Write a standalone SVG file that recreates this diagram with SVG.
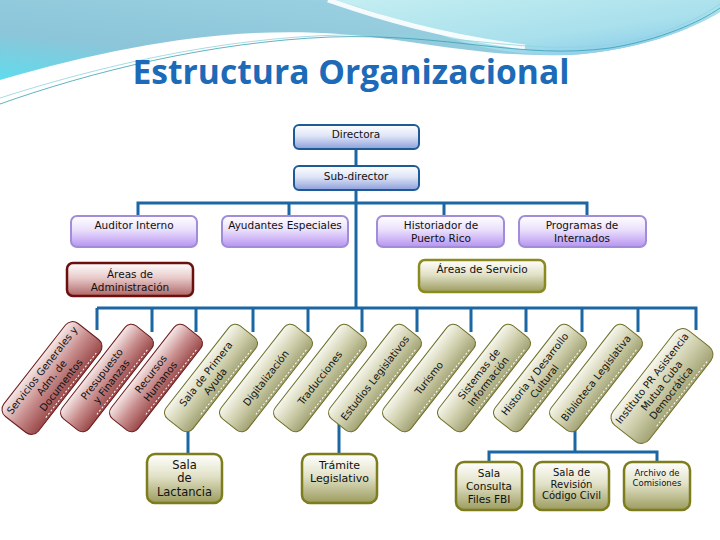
<svg xmlns="http://www.w3.org/2000/svg" width="720" height="540" viewBox="0 0 720 540">
<defs>
<linearGradient id="bgA" x1="0" y1="1" x2="1" y2="0">
<stop offset="0" stop-color="#5fdcec"/><stop offset="0.3" stop-color="#8cc5d9"/><stop offset="0.7" stop-color="#98cfe0"/><stop offset="1" stop-color="#b3e3ec"/>
</linearGradient>
<linearGradient id="bgB" x1="0" y1="0" x2="1" y2="1">
<stop offset="0" stop-color="#c4eef2"/><stop offset="0.6" stop-color="#a9e0ec"/><stop offset="1" stop-color="#7ec3ea"/>
</linearGradient>
<linearGradient id="gBlue" x1="0" y1="0" x2="0" y2="1"><stop offset="0" stop-color="#ffffff"/><stop offset="0.45" stop-color="#dfe5f7"/><stop offset="1" stop-color="#8c9fdb"/></linearGradient>
<linearGradient id="gPurple" x1="0" y1="0" x2="0" y2="1"><stop offset="0" stop-color="#ffffff"/><stop offset="0.45" stop-color="#eadffc"/><stop offset="1" stop-color="#b694f1"/></linearGradient>
<linearGradient id="gRedBox" x1="0" y1="0" x2="0" y2="1"><stop offset="0" stop-color="#ffffff"/><stop offset="0.45" stop-color="#e8caca"/><stop offset="1" stop-color="#ae6666"/></linearGradient>
<linearGradient id="gOliveBox" x1="0" y1="0" x2="0" y2="1"><stop offset="0" stop-color="#ffffff"/><stop offset="0.45" stop-color="#e2e2c8"/><stop offset="1" stop-color="#9b9b5e"/></linearGradient>
<linearGradient id="gRedR" x1="0" y1="0" x2="0" y2="1"><stop offset="0" stop-color="#f6e8e8"/><stop offset="0.5" stop-color="#c98e8e"/><stop offset="1" stop-color="#9a4848"/></linearGradient>
<linearGradient id="gOliveR" x1="0" y1="0" x2="0" y2="1"><stop offset="0" stop-color="#f7f7ee"/><stop offset="0.5" stop-color="#d0d0ae"/><stop offset="1" stop-color="#a2a274"/></linearGradient>
<style>
.conn{stroke:#1b66a3;stroke-width:3;fill:none}
.t{font-family:"DejaVu Sans",Verdana,sans-serif;fill:#111;text-anchor:middle}
.top{fill:url(#gBlue);stroke:#1d5a96;stroke-width:2}
.pur{fill:url(#gPurple);stroke:#a08cd8;stroke-width:2}
.adm{fill:url(#gRedBox);stroke:#6b0f0f;stroke-width:2.5}
.srv{fill:url(#gOliveBox);stroke:#8a8a1e;stroke-width:2.5}
.bot{fill:url(#gOliveBox);stroke:#7d7d1d;stroke-width:2.5}
.rred{fill:url(#gRedR);stroke:#6a1c1c;stroke-width:1}
.rol{fill:url(#gOliveR);stroke:#6e6e28;stroke-width:1}
.dash{stroke:#ffffff;stroke-width:1;stroke-dasharray:2 2;fill:none}
.rt{font-family:"DejaVu Sans",Verdana,sans-serif;font-size:10px;fill:#111;text-anchor:middle}
</style>
</defs>
<rect width="720" height="540" fill="#ffffff"/>
<g id="background">
<path d="M0,0 H720 V12 C690,30 640,50 570,55 C480,58 420,40 340,34 C230,26 120,45 0,80 Z" fill="url(#bgA)"/>
<path d="M335,0 H720 V12 C690,30 640,50 570,55 C520,56 480,48 450,38 C410,24 370,10 335,0 Z" fill="url(#bgB)"/>
<path d="M328,0 C380,18 440,36 525,47" stroke="#ffffff" stroke-width="5" fill="none" opacity="0.9"/>
<path d="M0,104 C90,72 210,42 330,37 C450,33 520,60 610,48 C660,40 700,22 720,8" stroke="#3a9fb0" stroke-width="0.8" fill="none"/>
<path d="M0,98 C100,66 220,38 340,35 C460,32 530,56 615,44 C665,36 700,18 720,4" stroke="#8fd3de" stroke-width="0.8" fill="none"/>
</g>
<text x="351" y="84" font-family="'Open Sans','Noto Sans',sans-serif" font-weight="700" font-size="34" fill="#1c6ab8" textLength="437" lengthAdjust="spacingAndGlyphs" text-anchor="middle">Estructura Organizacional</text>
<g id="connectors">
<path class="conn" d="M356,149 V166 M356,190 V308 M138,216 V203 H587 V216 M289,203 V216 M444,203 V216"/>
<path class="conn" d="M97,308 H696 V330 M97,308 V330 M152,308 V332 M196,308 V332 M253,308 V332 M308,308 V332 M362,308 V332 M417,308 V332 M471,308 V332 M526,308 V332 M582,308 V332 M638,308 V332"/>
<path class="conn" d="M188,420 V454 M339,420 V454 M575,425 V452 M489,462 V452 H657 V462"/>
</g>
<g id="directora"><rect class="top" x="294" y="125" width="125" height="24" rx="5"/><text class="t" x="356" y="138" font-size="10.5">Directora</text></g>
<g id="subdirector"><rect class="top" x="294" y="166" width="125" height="24" rx="5"/><text class="t" x="356" y="180" font-size="10.5">Sub-director</text></g>
<g id="auditor"><rect class="pur" x="71" y="216" width="126" height="31" rx="6"/><text class="t" x="134" y="229" font-size="10.5">Auditor Interno</text></g>
<g id="ayudantes"><rect class="pur" x="222" y="216" width="126" height="31" rx="6"/><text class="t" x="285" y="229" font-size="10.5">Ayudantes Especiales</text></g>
<g id="historiador"><rect class="pur" x="377" y="216" width="127" height="31" rx="6"/><text class="t" x="441" y="229" font-size="10.5">Historiador de</text><text class="t" x="441" y="242" font-size="10.5">Puerto Rico</text></g>
<g id="programas"><rect class="pur" x="519" y="216" width="127" height="31" rx="6"/><text class="t" x="582" y="229" font-size="10.5">Programas de</text><text class="t" x="582" y="242" font-size="10.5">Internados</text></g>
<g id="areas-admin"><rect class="adm" x="67" y="263" width="126" height="33" rx="6"/><text class="t" x="130" y="278" font-size="10.5">Áreas de</text><text class="t" x="130" y="291" font-size="10.5">Administración</text></g>
<g id="areas-servicio"><rect class="srv" x="419" y="260" width="126" height="32" rx="6"/><text class="t" x="482" y="273" font-size="10.5">Áreas de Servicio</text></g>

<g id="servicios" transform="translate(52,378) rotate(-52)"><rect class="rred" x="-59" y="-22" width="118" height="44" rx="9"/><path class="dash" d="M-35,19.5 H48"/><text class="rt" font-size="9.3" y="-9">Servicios Generales y</text><text class="rt" font-size="9.3" y="3">Adm. de</text><text class="rt" font-size="9.3" y="15">Documentos</text></g>
<g id="presupuesto" transform="translate(107,378) rotate(-52)"><rect class="rred" x="-59" y="-17" width="118" height="34" rx="8"/><path class="dash" d="M-35,14.5 H48"/><text class="rt" y="-3">Presupuesto</text><text class="rt" y="9">y Finanzas</text></g>
<g id="recursos" transform="translate(156,378) rotate(-52)"><rect class="rred" x="-59" y="-17" width="118" height="34" rx="8"/><path class="dash" d="M-35,14.5 H48"/><text class="rt" y="-3">Recursos</text><text class="rt" y="9">Humanos</text></g>
<g id="primera-ayuda" transform="translate(211,378) rotate(-52)"><rect class="rol" x="-59" y="-17" width="118" height="34" rx="8"/><path class="dash" d="M-35,14.5 H48"/><text class="rt" y="-3">Sala de Primera</text><text class="rt" y="9">Ayuda</text></g>
<g id="digitalizacion" transform="translate(266,378) rotate(-52)"><rect class="rol" x="-59" y="-17" width="118" height="34" rx="8"/><path class="dash" d="M-35,14.5 H48"/><text class="rt" y="3.5">Digitalización</text></g>
<g id="traducciones" transform="translate(320,378) rotate(-52)"><rect class="rol" x="-59" y="-17" width="118" height="34" rx="8"/><path class="dash" d="M-35,14.5 H48"/><text class="rt" y="3.5">Traducciones</text></g>
<g id="estudios" transform="translate(375,378) rotate(-52)"><rect class="rol" x="-59" y="-17" width="118" height="34" rx="8"/><path class="dash" d="M-35,14.5 H48"/><text class="rt" y="3.5">Estudios Legislativos</text></g>
<g id="turismo" transform="translate(429,378) rotate(-52)"><rect class="rol" x="-59" y="-17" width="118" height="34" rx="8"/><path class="dash" d="M-35,14.5 H48"/><text class="rt" y="3.5">Turismo</text></g>
<g id="sistemas" transform="translate(484,378) rotate(-52)"><rect class="rol" x="-59" y="-17" width="118" height="34" rx="8"/><path class="dash" d="M-35,14.5 H48"/><text class="rt" y="-3">Sistemas de</text><text class="rt" y="9">Información</text></g>
<g id="historia" transform="translate(540,378) rotate(-52)"><rect class="rol" x="-59" y="-17" width="118" height="34" rx="8"/><path class="dash" d="M-35,14.5 H48"/><text class="rt" y="-3">Historia y Desarrollo</text><text class="rt" y="9">Cultural</text></g>
<g id="biblioteca" transform="translate(596,378) rotate(-52)"><rect class="rol" x="-59" y="-17" width="118" height="34" rx="8"/><path class="dash" d="M-35,14.5 H48"/><text class="rt" y="3.5">Biblioteca Legislativa</text></g>
<g id="instituto" transform="translate(662,386) rotate(-52)"><rect class="rol" x="-60" y="-23" width="120" height="46" rx="10"/><path class="dash" d="M-35,20.5 H48"/><text class="rt" font-size="9.3" y="-9">Instituto PR Asistencia</text><text class="rt" font-size="9.3" y="3">Mutua Cuba</text><text class="rt" font-size="9.3" y="15">Democrática</text></g>

<g id="lactancia"><rect class="bot" x="147" y="454" width="75" height="49" rx="8"/><text class="t" x="184.5" y="469" font-size="11.5">Sala</text><text class="t" x="184.5" y="482" font-size="11.5">de</text><text class="t" x="184.5" y="496" font-size="11.5">Lactancia</text></g>
<g id="tramite"><rect class="bot" x="302" y="454" width="75" height="49" rx="8"/><text class="t" x="339.5" y="469" font-size="11">Trámite</text><text class="t" x="339.5" y="482" font-size="11">Legislativo</text></g>
<g id="files-fbi"><rect class="bot" x="456" y="462" width="66" height="48" rx="8"/><text class="t" x="489" y="477" font-size="10.5">Sala</text><text class="t" x="489" y="490" font-size="10.5">Consulta</text><text class="t" x="489" y="503" font-size="10.5">Files FBI</text></g>
<g id="codigo-civil"><rect class="bot" x="534" y="462" width="75" height="48" rx="8"/><text class="t" x="571.5" y="476" font-size="10">Sala de</text><text class="t" x="571.5" y="488" font-size="10">Revisión</text><text class="t" x="571.5" y="499" font-size="10">Código Civil</text></g>
<g id="archivo"><rect class="bot" x="624" y="462" width="66" height="48" rx="8"/><text class="t" x="657" y="476" font-size="8.5">Archivo de</text><text class="t" x="657" y="486" font-size="8.5">Comisiones</text></g>
</svg>
